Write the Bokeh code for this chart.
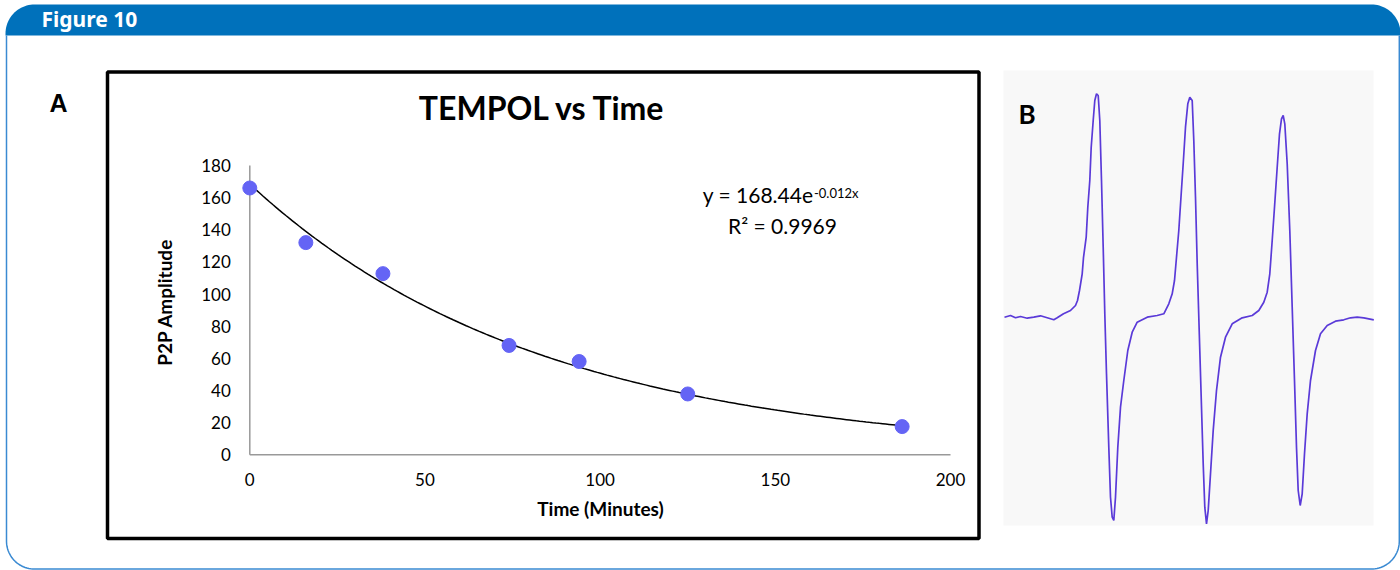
import numpy as np
from bokeh.plotting import figure
from bokeh.models import Range1d
from bokeh.core.properties import value
from bokeh.embed import file_html
from bokeh.resources import INLINE

# ---------------- data: panel A (TEMPOL vs Time) ----------------
time_min = [0, 16, 38, 74, 94, 125, 186.2]
p2p_amp = [166, 132, 112.7, 68, 58, 37.8, 17.5]
fit_a = 168.44          # y = 168.44 e^(-0.012 x)
fit_b = -0.012
r_squared = "0.9969"
x_ticks = [0, 50, 100, 150, 200]
y_ticks = [0, 20, 40, 60, 80, 100, 120, 140, 160, 180]
x_title = "Time (Minutes)"
y_title = "P2P Amplitude"
chart_title = "TEMPOL vs Time"

# ---------------- data: panel B (EPR spectrum trace) ----------------
field = [1, 7, 12, 17, 23.7, 30.3, 37, 43.7, 50.3, 53.7, 60, 67, 72, 74, 76, 78.7, 80, 82.7,
         84.3, 86.3, 87.7, 89.7, 91.3, 93, 94.7, 96.3, 98, 99.7, 101.3, 103, 105.3, 107, 108.7,
         110.3, 112, 114.3, 117, 120.3, 124.3, 128.7, 133.7, 143.7, 153.7, 160.3, 165.3,
         168.7, 171, 173, 175.3, 177.7, 179.7, 182, 184.3, 186.3, 188.7, 190.3, 192, 193.7,
         195.7, 197.7, 199.7, 201.3, 203, 204.7, 207, 209.7, 213, 217, 222, 228.7, 238.7,
         248.7, 255.3, 260.3,
         263.7, 266.3, 268.7, 271, 273.7, 276, 278, 279.7, 281.3, 283.7, 286.3, 288.7, 291,
         293, 294.7, 296.7, 298.7, 301, 303.7, 307, 312, 317, 323.7, 332, 340.3, 347, 353.7,
         360.3, 370.3]
signal = [0.3, 2, -0.3, 1, -0.7, 0.3, 1.7, -0.3, -2.3, -0.3, 3.7, 7, 12, 17, 27, 43.7, 60, 80.3,
          110.3, 137, 170.3, 197, 217, 223.7, 222, 197, 137, 70.3, 3.7, -56.3, -129.7, -179.7,
          -199.7, -203, -179.7, -129.7, -89.7, -63, -33, -14.7, -4.7, 0.3, 2, 3.7, 13.7,
          23.7, 37, 60.3, 87, 123.7, 153.7, 190.3, 213.7, 220.3, 217, 177, 120.3, 53.7,
          -13, -79.7, -146.3, -189.7, -206.3, -193, -156.3, -113, -73, -39.7, -19.7, -6.3, -0.3,
          2, 7, 15.3,
          25.3, 43.7, 77, 110.3, 150.3, 183.7, 198.7, 202, 193.7, 153.7, 87, 10.3, -63,
          -129.7, -173, -188, -176.3, -136.3, -96.3, -63, -33, -16.3, -8, -3.7, -2.3, -0.3, 0.3,
          -0.3, -2.3]

# ---------------- layout constants (canvas pixels, y downward) ----------------
W, H = 1400, 570
A_X0, A_X200 = 249.3, 950.0      # screen x of time 0 and 200
A_Y0, A_Y180 = 454.2, 165.0      # screen y of amplitude 0 and 180
B_X0, B_Y0 = 1003.0, 317.0       # screen origin of spectrum trace

p = figure(width=W, height=H, x_range=Range1d(0, W), y_range=Range1d(H, 0),
           output_backend="svg", toolbar_location=None, min_border=0,
           background_fill_color="white", border_fill_color="white")
p.axis.visible = False
p.grid.visible = False
p.outline_line_color = None
p.title.visible = False

kx = (A_X200 - A_X0) / 200.0
ky = (A_Y0 - A_Y180) / 180.0
p.extra_x_ranges = {
    "ax": Range1d(-A_X0 / kx, (W - A_X0) / kx),
    "bx": Range1d(-B_X0, W - B_X0),
}
p.extra_y_ranges = {
    "ay": Range1d((A_Y0 - H) / ky, A_Y0 / ky),
    "by": Range1d(B_Y0 - H, B_Y0),
}

# ---------------- frame: header bar and rounded border ----------------
def arc(cx, cy, r, t0, t1, n=24):
    t = np.radians(np.linspace(t0, t1, n))
    return list(cx + r * np.cos(t)), list(cy - r * np.sin(t))

L, R, T, HB = 5.0, 1400.0, 4.0, 35.0
rr = 29.0
ax1, ay1 = arc(L + rr, T + rr, rr, 180, 90)
ax2, ay2 = arc(R - rr, T + rr, rr, 90, 0)
p.patch(ax1 + ax2 + [R, L], ay1 + ay2 + [HB, HB], fill_color="#0071BB", line_color=None)

BL, BR, BB, br = 6.0, 1398.8, 568.6, 28.0
bx1, by1 = arc(BL + br, BB - br, br, 180, 270)
bx2, by2 = arc(BR - br, BB - br, br, 270, 360)
p.line([BL] + bx1 + bx2 + [BR], [HB] + by1 + by2 + [HB], line_color="#3A8AD2", line_width=1.5)

p.text(x=[41], y=[18.7], text=["Figure 10"], text_font=value("Noto Sans"), text_font_style="bold",
       text_font_size="21px", text_color="white", text_baseline="alphabetic", text_align="left")

# ---------------- panel labels ----------------
p.text(x=[49], y=[102], text=["A"], text_font=value("Liberation Sans"), text_font_style="bold",
       text_font_size="25px", text_color="black", text_baseline="alphabetic", text_align="left")

# ---------------- panel A box ----------------
p.rect(x=[(107 + 978.5) / 2], y=[(71.5 + 538) / 2], width=[978.5 - 107], height=[538 - 71.5],
       fill_color=None, line_color="black", line_width=3.5)

FONT = value("Lato")
# title
p.text(x=[542], y=[107], text=[chart_title], text_font=FONT, text_font_style="bold",
       text_font_size="32px", text_color="black", text_align="center", text_baseline="alphabetic")

# axes lines (data space)
p.line(x=[0, 200], y=[0, 0], x_range_name="ax", y_range_name="ay", line_color="#999999", line_width=1.5)
p.line(x=[0, 0], y=[0, 180], x_range_name="ax", y_range_name="ay", line_color="#999999", line_width=1.5)

# tick labels
p.text(x=[0] * len(y_ticks), y=y_ticks, text=[str(v) for v in y_ticks], x_range_name="ax", y_range_name="ay",
       text_font=FONT, text_font_size="17px", text_color="black", text_align="right",
       text_baseline="alphabetic", x_offset=-19, y_offset=0)
p.text(x=x_ticks, y=[0] * len(x_ticks), text=[str(v) for v in x_ticks], x_range_name="ax", y_range_name="ay",
       text_font=FONT, text_font_size="17px", text_color="black", text_align="center",
       text_baseline="alphabetic", y_offset=25)

# axis titles
p.text(x=[600], y=[508], text=[x_title], text_font=FONT, text_font_style="bold", text_font_size="19px",
       text_color="black", text_align="center", text_baseline="alphabetic")
p.text(x=[163.5], y=[301.7], text=[y_title], text_font=FONT, text_font_style="bold", text_font_size="19px",
       text_color="black", text_align="center", text_baseline="alphabetic", angle=np.pi / 2)

# trendline from the chart's fitted equation
fx = np.linspace(0, max(time_min), 200)
p.line(x=fx, y=fit_a * np.exp(fit_b * fx), x_range_name="ax", y_range_name="ay",
       line_color="black", line_width=1.5)

# data points
p.scatter(x=time_min, y=p2p_amp, x_range_name="ax", y_range_name="ay", size=14,
          fill_color="#6464F5", line_color="#6464F5")

# equation text
p.text(x=[813], y=[194.3], text=["y = 168.44e"], text_font=FONT, text_font_size="21px",
       text_color="black", text_align="right", text_baseline="alphabetic")
p.text(x=[813.5], y=[192], text=["-0.012x"], text_font=FONT, text_font_size="13px",
       text_color="black", text_align="left", text_baseline="alphabetic")
p.text(x=[782], y=[224.5], text=["R\u00b2 = " + r_squared], text_font=FONT, text_font_size="21px",
       text_color="black", text_align="center", text_baseline="alphabetic")

# ---------------- panel B ----------------
p.quad(left=[0], right=[370], top=[B_Y0 - 70], bottom=[B_Y0 - 525], x_range_name="bx", y_range_name="by",
       fill_color="#F8F8F8", line_color=None)
p.line(x=field, y=signal, x_range_name="bx", y_range_name="by", line_color="#5A3AD8", line_width=1.7)
p.text(x=[1018], y=[113], text=["B"], text_font=FONT, text_font_style="bold", text_font_size="26px",
       text_color="black", text_align="left", text_baseline="alphabetic")

open("out.html", "w").write(file_html(p, INLINE))
